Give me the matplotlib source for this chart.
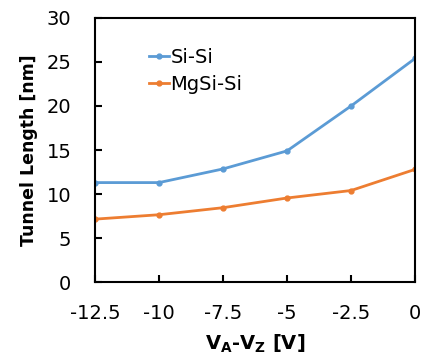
import matplotlib
matplotlib.use("Agg")
import matplotlib.pyplot as plt

# values
voltage = [-12.5, -10, -7.5, -5, -2.5, 0]
si_si = [11.3, 11.3, 12.85, 14.9, 20.0, 25.4]
mgsi_si = [7.15, 7.65, 8.45, 9.55, 10.4, 12.8]
xticks = [-12.5, -10, -7.5, -5, -2.5, 0]
xtick_labels = ["-12.5", "-10", "-7.5", "-5", "-2.5", "0"]
yticks = [0, 5, 10, 15, 20, 25, 30]

plt.rcParams['font.family'] = ['DejaVu Sans']

fig = plt.figure(figsize=(4.24, 3.58), dpi=100)
ax = fig.add_axes([0.224, 0.212, 0.755, 0.738])

ax.plot(voltage, si_si, color='#5B9BD5', lw=2, marker='o', ms=3.5, label='Si-Si')
ax.plot(voltage, mgsi_si, color='#ED7D31', lw=2, marker='o', ms=3.5, label='MgSi-Si')

ax.set_xlim(-12.5, 0)
ax.set_ylim(0, 30)
ax.set_xticks(xticks)
ax.set_xticklabels(xtick_labels)
ax.set_yticks(yticks)
ax.tick_params(direction='in', length=5, width=1.5, labelsize=14, colors='black')
ax.tick_params(axis='y', pad=17)
ax.tick_params(axis='x', pad=16)
for s in ax.spines.values():
    s.set_linewidth(1.5)

ax.set_ylabel('Tunnel Length [nm]', fontsize=12.5, fontweight='bold', labelpad=6)
ax.set_xlabel('V$_\\mathregular{A}$-V$_\\mathregular{Z}$ [V]', fontsize=14, fontweight='bold', labelpad=7)

ax.legend(loc='upper left', bbox_to_anchor=(0.145, 0.915), frameon=False, fontsize=14,
          handlelength=1.0, handletextpad=0.1, labelspacing=0.4, borderaxespad=0)

fig.savefig('out.png', dpi=100)
